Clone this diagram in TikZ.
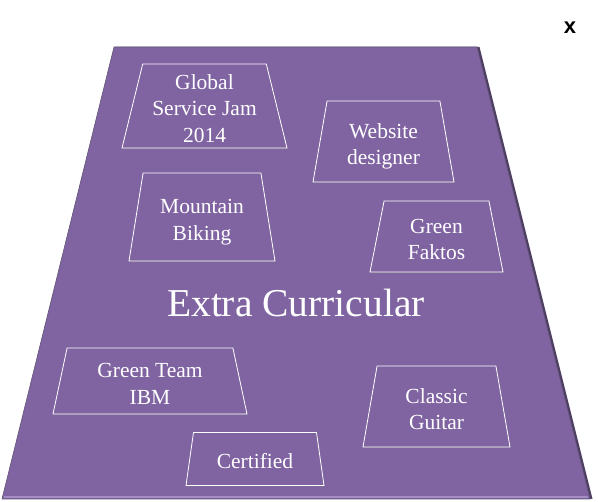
\documentclass[tikz,border=0pt]{standalone}
\usepackage{fontspec}
\setmainfont{Liberation Serif}
\newfontfamily\marksans{Liberation Sans}
\usetikzlibrary{shapes.geometric,shadows}
\definecolor{panelpurple}{HTML}{8064A2}
\definecolor{paneldark}{HTML}{3A2B52}
\definecolor{panellight}{HTML}{A48DC3}
\newcommand{\lift}{\rule[-5pt]{0pt}{30pt}}

\begin{document}
\begin{tikzpicture}[
    x=1pt, y=-1pt,
    every node/.style={
        trapezium, trapezium angle=76,
        trapezium stretches body=true,
        inner sep=0pt, outer sep=0pt,
        align=center
    },
    panel/.style={
        fill=panelpurple, draw=paneldark!80, line width=0.6pt,
        drop shadow={shadow xshift=2.5pt, shadow yshift=0pt,
            fill=paneldark, opacity=0.9}
    },
    activity/.style={
        fill=panelpurple, draw=white, line width=0.8pt, text=white,
        font=\fontsize{21.5}{26.5}\selectfont,
        drop shadow={shadow xshift=0.8pt, shadow yshift=-1.2pt, opacity=0.4},
        execute at end node={\rule[-5pt]{0pt}{5pt}}
    },
    title/.style={rectangle, text=white, font=\fontsize{39.5}{47}\selectfont},
    close/.style={rectangle, font=\marksans\bfseries\fontsize{22}{26}\selectfont}
]
\useasboundingbox (0,0) rectangle (598,502);

\path[panel] (114,47) -- (477,47) -- (590,499) -- (2,499) -- cycle;
\draw[panellight, line width=2.5pt] (4,496.8) -- (588,496.8);

\node[activity, minimum width=165pt, minimum height=84pt] (jam) at (204.5,106) {\lift Global\\Service Jam\\2014};
\node[activity, minimum width=141pt, minimum height=81pt] (web) at (383.5,141.5) {\lift Website\\designer};
\node[activity, minimum width=146pt, minimum height=88pt] (bike) at (202,217) {\lift Mountain\\Biking};
\node[activity, minimum width=133pt, minimum height=71pt] (faktos) at (436.5,236.5) {\lift Green\\Faktos};
\node[activity, minimum width=194pt, minimum height=66pt] (ibm) at (150,381) {\lift Green Team\\IBM};
\node[activity, minimum width=147pt, minimum height=81pt] (guitar) at (436.5,406.5) {\lift Classic\\Guitar};
\node[activity, minimum width=138pt, minimum height=53pt] (cert) at (255,459) {\lift Certified};

\node[title, anchor=base] (title) at (296,317) {Extra Curricular};
\node[close] (close) at (570,28) {x};
\end{tikzpicture}
\end{document}
